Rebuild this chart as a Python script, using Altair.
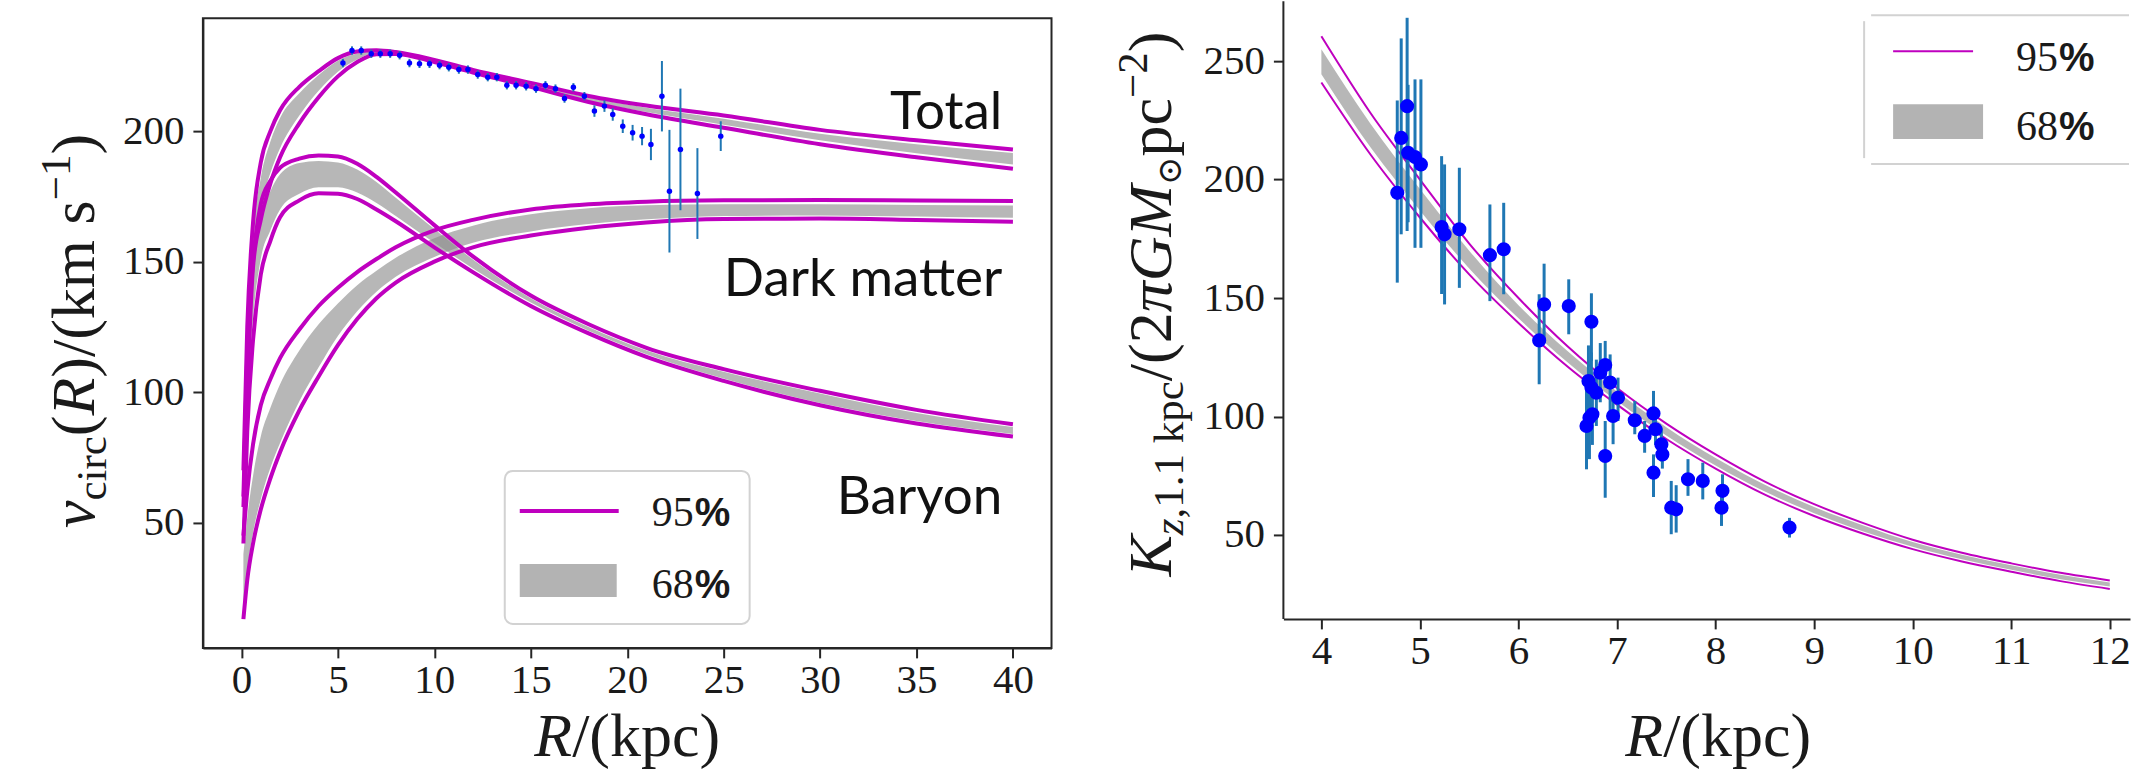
import altair as alt
import pandas as pd

# ---------------- left panel: circular velocity curves ----------------
R_grid = [0.1, 0.3, 0.6, 1.0, 1.5, 2.0, 3.0, 4.0, 5.0, 6.0, 7.0, 8.0, 10.0, 12.0, 15.0, 18.0, 21.0, 25.0, 30.0, 35.0, 40.0]

total_up95 = [70, 125, 165, 188, 200, 208, 217, 223, 228, 230.5, 231, 230.3, 227.3, 223.5, 218.5, 213.5, 209.8, 206, 200.5, 196.5, 193]
total_lo95 = [56, 100, 148, 166, 180, 190, 203, 213, 221, 226.5, 229.5, 229.6, 226.5, 222.5, 217, 211.2, 206.5, 201.3, 195, 190, 185.6]
total_up68 = [67, 119, 160, 182, 196, 205, 214.5, 221.5, 227, 229.8, 230.6, 230, 227, 223.2, 218.1, 212.9, 209, 204.8, 199, 195, 191.6]
total_lo68 = [59, 106, 152, 171, 184, 193.5, 206, 215.5, 222.8, 227.5, 230, 229.8, 226.7, 222.8, 217.4, 211.7, 207.3, 202.5, 196.5, 191.5, 187.2]

dm_up95 = [45, 62, 80, 95, 105, 113, 124, 133, 140, 146, 151, 155.5, 162, 166, 170, 172, 173, 173.5, 173.6, 173.4, 173.2]
dm_lo95 = [13, 28, 42, 55, 67, 77, 93, 106, 118, 128, 136, 142, 150, 155.5, 160, 163, 165, 166.3, 166.5, 166, 165.3]
dm_up68 = [38, 52, 68, 83, 94, 103, 116, 126, 134, 141, 146.5, 151.5, 159, 163.8, 168.2, 170.5, 171.6, 172, 172, 171.7, 171.5]
dm_lo68 = [15, 31, 46, 59, 71, 80.5, 96.5, 109.5, 121.5, 131, 138.5, 144.2, 151.8, 157.2, 161.6, 164.4, 166.2, 167.5, 167.7, 167.3, 166.8]

bar_up95 = [60, 115, 150, 172, 181, 186, 189.5, 190.7, 190.3, 187.5, 182.5, 176.5, 164, 152, 137, 126, 117, 108.8, 100.5, 93.2, 87.7]
bar_lo95 = [42, 85, 120, 145, 158, 167, 173.5, 176.2, 176, 174, 170, 165.5, 155.5, 146, 133, 122.5, 113.5, 104.3, 95, 88, 83]
bar_up68 = [56, 108, 144, 167, 177, 183.5, 187.8, 188.6, 188, 185.3, 180.5, 174.5, 162.5, 150.8, 136, 125, 116, 107.8, 99.5, 92, 86.6]
bar_lo68 = [46, 93, 128, 151, 162, 170, 176, 178.5, 178.5, 176.5, 172.5, 167.5, 157.2, 147.4, 134.3, 123.5, 114.5, 105.2, 95.8, 88.9, 84]

rc_R = [5.26, 5.73, 6.21, 6.73, 7.20, 7.71, 8.20, 8.71, 9.23, 9.75, 10.27, 10.75, 11.27, 11.74, 12.25, 12.77, 13.24, 13.76, 14.24, 14.76,
        15.27, 15.76, 16.28, 16.75, 17.21, 17.78, 18.30, 18.82, 19.25, 19.77, 20.28, 20.77, 21.23, 21.80, 22.19, 22.76, 23.64, 24.85]
rc_v = [226.1, 230.9, 230.9, 229.7, 229.7, 229.7, 229.1, 226.1, 225.8, 225.8, 225.3, 224.5, 223.6, 223.6, 221.7, 220.7, 220.7, 217.6, 217.6, 217.2,
        216.3, 217.6, 216.3, 212.5, 216.8, 213.4, 207.7, 209.6, 206.4, 201.9, 199.4, 198.1, 194.9, 213.4, 177.0, 193.0, 176.1, 198.1]
rc_err = [1.6, 1.6, 1.6, 1.6, 1.6, 1.6, 1.6, 1.6, 1.6, 1.6, 1.6, 1.6, 1.6, 1.6, 1.6, 1.6, 1.6, 1.6, 1.6, 1.6,
          1.6, 1.6, 1.6, 1.6, 1.6, 1.6, 2.2, 2.2, 2.4, 2.6, 3.0, 3.5, 6.0, 13.5, 23.5, 23.3, 17.4, 5.7]

comp_labels = ["Total", "Dark matter", "Baryon"]
comp_label_R = [39.45, 39.45, 39.45]
comp_label_v = [200.8, 136.8, 53.3]

# ---------------- right panel: vertical force ----------------
kz_grid = [4.0, 4.5, 5.0, 5.5, 6.0, 6.5, 7.0, 7.5, 8.0, 8.5, 9.0, 9.5, 10.0, 10.5, 11.0, 11.5, 12.0]
kz_up95 = [260.5, 228, 200, 173, 150, 129.5, 112, 97, 84, 72.5, 63, 55, 48, 42.5, 38, 34, 30.8]
kz_lo95 = [241, 210.5, 184, 160, 139.5, 121, 105, 90.5, 78, 67, 58, 50.5, 44, 38.8, 34.5, 30.5, 27.2]
kz_up68 = [255, 223.5, 196, 170, 147, 127.5, 110.5, 95.5, 82.5, 71.2, 61.8, 54, 47, 41.6, 37.2, 33.2, 29.9]
kz_lo68 = [244.5, 213.5, 187, 162.5, 141.5, 122.8, 106.5, 92, 79.3, 68.3, 59.2, 51.5, 45, 39.7, 35.3, 31.3, 28.2]

kz_R = [4.77, 4.81, 4.87, 4.88, 4.95, 5.01, 5.22, 5.25, 5.40, 5.71, 5.85, 6.21, 6.26, 6.51, 6.74, 6.71, 6.74, 6.79, 6.83, 6.88, 6.93,
        7.01, 6.69, 6.72, 6.75, 6.96, 6.88, 7.18, 7.28, 7.37, 7.39, 7.45, 7.46, 7.37, 7.55, 7.60, 7.72, 7.87, 8.06, 8.07, 8.75]
kz_K = [194.4, 217.6, 231.0, 211.3, 209.5, 206.4, 180.0, 176.9, 179.0, 168.1, 170.6, 132.1, 147.3, 146.6, 140.0, 115.0, 112.2, 110.0, 118.5, 121.7, 114.3,
        107.9, 96.0, 99.5, 100.9, 100.2, 83.3, 98.4, 91.8, 101.3, 94.6, 88.2, 84.0, 76.3, 61.5, 60.8, 73.5, 72.8, 61.5, 68.6, 53.1]
kz_lo = [156.5, 176.9, 178.3, 182.0, 171.2, 171.2, 151.7, 147.3, 154.3, 148.7, 151.6, 113.6, 131.0, 134.7, 123.4, 100.0, 97.0, 96.0, 106.0, 112.2, 102.3,
         98.1, 77.7, 82.0, 88.0, 88.3, 65.7, 92.5, 84.7, 92.5, 88.0, 81.0, 78.0, 66.0, 50.3, 51.0, 66.5, 65.0, 53.8, 63.0, 48.9]
kz_hi = [233.4, 259.6, 268.3, 240.0, 242.3, 242.3, 209.9, 206.4, 205.0, 189.5, 190.2, 151.6, 164.5, 157.9, 152.0, 130.0, 127.0, 124.0, 131.0, 131.9, 126.2,
         116.4, 115.0, 118.0, 114.0, 109.4, 98.1, 106.5, 98.1, 110.8, 101.0, 95.0, 90.0, 84.0, 72.8, 71.0, 82.0, 80.5, 69.3, 75.6, 57.2]

legend_labels = ["95", "68"]

# ---------------- styling ----------------
SERIF = "'Liberation Serif', 'Times New Roman', 'DejaVu Serif', serif"
SANS = "Lato"
PCTFONT = "'Liberation Sans', 'DejaVu Sans', sans-serif"
MAGENTA = "#bf00bf"
BANDFILL = "#8a8a8a"
EBLUE = "#1f77b4"
PBLUE = "#0000ff"
AX = "#262626"
TXT = "#1a1a1a"

W_L, H_L = 849, 630
W_R, H_R = 847, 601

xL = alt.Scale(domain=[-2, 42], nice=False, zero=False)
yL = alt.Scale(domain=[2, 243.3], nice=False, zero=False)
xR = alt.Scale(domain=[3.6146, 12.205], nice=False, zero=False)
yR = alt.Scale(domain=[14.56, 268.14], nice=False, zero=False)


def mk_axis(values, pad, domain=True):
    return alt.Axis(values=values, title=None, grid=False, labelFont=SERIF, labelFontSize=41,
                    labelColor=TXT, tickColor=AX, tickWidth=2, tickSize=10, domain=domain,
                    domainColor=AX, domainWidth=2, labelPadding=pad, labelFlush=False,
                    labelOverlap=False, format="d")


axLx = mk_axis(list(range(0, 41, 5)), 3)
axLy = mk_axis([50, 100, 150, 200], 9)
axRx = mk_axis(list(range(4, 13)), 3)
axRy = mk_axis([50, 100, 150, 200, 250], 9, domain=False)

# text width estimates (em units, Times-like metrics) used to lay out composed math titles
TW_REG = {'(': .333, ')': .333, '/': .278, 'k': .5, 'm': .778, ' ': .25, 's': .389, 'p': .5, 'c': .444,
          'i': .278, 'r': .333, ',': .25, '.': .25, '1': .5, '2': .5, '−': .564}
TW_IT = {'v': .444, 'R': .611, 'K': .667, 'z': .389, 'π': .5, 'G': .722, 'M': .833}


def tw(s, italic, size, font):
    if font != SERIF:
        return 0.84 * size * len(s)
    tab = TW_IT if italic else TW_REG
    return sum(tab.get(ch, .5) for ch in s) * size


def layout_pieces(spec, base, center, vertical):
    total = sum(tw(t, it, sz, f) for t, it, sz, sh, f in spec)
    rows = []
    pos = center + total / 2 if vertical else center - total / 2
    for t, it, sz, sh, f in spec:
        w = tw(t, it, sz, f)
        if vertical:
            rows.append(dict(t=t, px=base + sh, py=pos, it=it, sz=sz, f=f))
            pos -= w
        else:
            rows.append(dict(t=t, px=pos, py=base + sh, it=it, sz=sz, f=f))
            pos += w
    return rows


def text_layers(rows, angle=0, weight="normal"):
    df = pd.DataFrame(rows)
    layers = []
    for (it, sz, f), g in df.groupby(["it", "sz", "f"]):
        layers.append(
            alt.Chart(g[["t", "px", "py"]]).mark_text(
                font=f, fontSize=float(sz), fontStyle="italic" if it else "normal", fontWeight=weight,
                angle=angle, align="left", baseline="alphabetic", color=TXT
            ).encode(
                x=alt.X("px:Q", scale=None, axis=None),
                y=alt.Y("py:Q", scale=None, axis=None),
                text="t:N",
            )
        )
    return layers


one = pd.DataFrame({"k": [0]})

# ---------------- left panel ----------------
band_rows = []
line_rows = []
for name, up95, lo95, up68, lo68 in [
    ("Total", total_up95, total_lo95, total_up68, total_lo68),
    ("DM", dm_up95, dm_lo95, dm_up68, dm_lo68),
    ("Baryon", bar_up95, bar_lo95, bar_up68, bar_lo68),
]:
    for i, r in enumerate(R_grid):
        band_rows.append(dict(R=r, lo=lo68[i], hi=up68[i], comp=name))
        line_rows.append(dict(R=r, v=up95[i], s=name + "_up"))
        line_rows.append(dict(R=r, v=lo95[i], s=name + "_lo"))
bandL = pd.DataFrame(band_rows)
lineL = pd.DataFrame(line_rows)
rcdf = pd.DataFrame({"R": rc_R, "v": rc_v,
                     "lo": [a - b for a, b in zip(rc_v, rc_err)],
                     "hi": [a + b for a, b in zip(rc_v, rc_err)]})
labdf = pd.DataFrame({"R": comp_label_R, "v": comp_label_v, "t": comp_labels})

L_bands = alt.Chart(bandL).mark_area(color=BANDFILL, opacity=0.62, interpolate="monotone").encode(
    x=alt.X("R:Q", scale=xL, axis=axLx), y=alt.Y("lo:Q", scale=yL, axis=axLy), y2="hi:Q", detail="comp:N")
L_lines = alt.Chart(lineL).mark_line(color=MAGENTA, strokeWidth=4, interpolate="monotone").encode(
    x=alt.X("R:Q", scale=xL, axis=axLx), y=alt.Y("v:Q", scale=yL, axis=axLy), detail="s:N")
L_err = alt.Chart(rcdf).mark_rule(color=EBLUE, strokeWidth=2).encode(
    x=alt.X("R:Q", scale=xL, axis=axLx), y=alt.Y("lo:Q", scale=yL, axis=axLy), y2="hi:Q")
L_pts = alt.Chart(rcdf).mark_circle(color=PBLUE, size=30, opacity=1).encode(
    x=alt.X("R:Q", scale=xL, axis=axLx), y=alt.Y("v:Q", scale=yL, axis=axLy))
L_lab = alt.Chart(labdf).mark_text(font=SANS, fontSize=53, align="right", baseline="alphabetic", color="#111").encode(
    x=alt.X("R:Q", scale=xL, axis=axLx), y=alt.Y("v:Q", scale=yL, axis=axLy), text="t:N")

# legend (left)
L_legbox = alt.Chart(one).mark_rect(fill="white", stroke="#d2d2d2", strokeWidth=2, cornerRadius=8).encode(
    x=alt.value(302), x2=alt.value(547), y=alt.value(453), y2=alt.value(606))
L_legline = alt.Chart(one).mark_rule(color=MAGENTA, strokeWidth=4).encode(
    x=alt.value(317), x2=alt.value(416), y=alt.value(493))
L_legpatch = alt.Chart(one).mark_rect(color="#b3b3b3").encode(
    x=alt.value(317), x2=alt.value(414), y=alt.value(546), y2=alt.value(579))
L_legtxt = text_layers([dict(t=legend_labels[0], px=449, py=508, it=False, sz=42, f=SERIF),
                        dict(t=legend_labels[1], px=449, py=580, it=False, sz=42, f=SERIF)])
L_legpct = text_layers([dict(t="%", px=492, py=508, it=False, sz=40, f=PCTFONT),
                        dict(t="%", px=492, py=580, it=False, sz=40, f=PCTFONT)], weight="bold")

# titles (left)
ytitle_L = [("v", True, 62, 0, SERIF), ("circ", False, 43, 12, SERIF), ("(", False, 62, 0, SERIF),
            ("R", True, 62, 0, SERIF), (")/(km s", False, 62, 0, SERIF), ("−1", False, 43, -24, SERIF),
            (")", False, 62, 0, SERIF)]
xtitle = [("R", True, 62, 0, SERIF), ("/(kpc)", False, 62, 0, SERIF)]
L_ytitle = text_layers(layout_pieces(ytitle_L, -109, 313, True), angle=270)
L_xtitle = text_layers(layout_pieces(xtitle, 738, 424.5, False))
L_pin = alt.Chart(one).mark_rule(color="white", strokeWidth=1).encode(
    x=alt.value(-201), y=alt.value(0), y2=alt.value(2))

left = alt.layer(L_bands, L_lines, L_err, L_pts, L_lab, L_legbox, L_legline, L_legpatch,
                 *L_legtxt, *L_legpct, *L_ytitle, *L_xtitle, L_pin).properties(
    width=W_L, height=H_L, view=alt.ViewBackground(stroke=AX, strokeWidth=2))

# ---------------- right panel ----------------
kzband = pd.DataFrame({"R": kz_grid, "lo": kz_lo68, "hi": kz_up68})
kzline = pd.DataFrame({"R": kz_grid * 2, "v": kz_up95 + kz_lo95,
                       "s": ["up"] * len(kz_grid) + ["lo"] * len(kz_grid)})
kzdf = pd.DataFrame({"R": kz_R, "K": kz_K, "lo": kz_lo, "hi": kz_hi})

R_band = alt.Chart(kzband).mark_area(color=BANDFILL, opacity=0.62, interpolate="monotone").encode(
    x=alt.X("R:Q", scale=xR, axis=axRx), y=alt.Y("lo:Q", scale=yR, axis=axRy), y2="hi:Q")
R_lines = alt.Chart(kzline).mark_line(color=MAGENTA, strokeWidth=2, interpolate="monotone").encode(
    x=alt.X("R:Q", scale=xR, axis=axRx), y=alt.Y("v:Q", scale=yR, axis=axRy), detail="s:N")
R_err = alt.Chart(kzdf).mark_rule(color=EBLUE, strokeWidth=3).encode(
    x=alt.X("R:Q", scale=xR, axis=axRx), y=alt.Y("lo:Q", scale=yR, axis=axRy), y2="hi:Q")
R_pts = alt.Chart(kzdf).mark_circle(color=PBLUE, size=200, opacity=1).encode(
    x=alt.X("R:Q", scale=xR, axis=axRx), y=alt.Y("K:Q", scale=yR, axis=axRy))
R_spine = alt.Chart(one).mark_rule(color=AX, strokeWidth=2).encode(
    x=alt.value(0), y=alt.value(-17), y2=alt.value(H_R))

# legend (right) - box runs off the right edge of the picture
R_legfill = alt.Chart(one).mark_rect(fill="white", opacity=0.9).encode(
    x=alt.value(582), x2=alt.value(846), y=alt.value(-2), y2=alt.value(145))
R_legtop = alt.Chart(one).mark_rule(color="#d2d2d2", strokeWidth=2).encode(
    x=alt.value(588), x2=alt.value(846), y=alt.value(-3))
R_legbot = alt.Chart(one).mark_rule(color="#d2d2d2", strokeWidth=2).encode(
    x=alt.value(588), x2=alt.value(846), y=alt.value(146))
R_legleft = alt.Chart(one).mark_rule(color="#d2d2d2", strokeWidth=2).encode(
    x=alt.value(581), y=alt.value(3), y2=alt.value(140))
R_legline = alt.Chart(one).mark_rule(color=MAGENTA, strokeWidth=2).encode(
    x=alt.value(610), x2=alt.value(690), y=alt.value(33))
R_legpatch = alt.Chart(one).mark_rect(color="#b3b3b3").encode(
    x=alt.value(610), x2=alt.value(700), y=alt.value(86), y2=alt.value(121))
R_legtxt = text_layers([dict(t=legend_labels[0], px=733, py=53, it=False, sz=42, f=SERIF),
                        dict(t=legend_labels[1], px=733, py=122, it=False, sz=42, f=SERIF)])
R_legpct = text_layers([dict(t="%", px=776, py=53, it=False, sz=40, f=PCTFONT),
                        dict(t="%", px=776, py=122, it=False, sz=40, f=PCTFONT)], weight="bold")

ytitle_R = [("K", True, 62, 0, SERIF), ("z", True, 43, 12, SERIF), (",1.1 kpc", False, 43, 12, SERIF),
            ("/(2", False, 62, 0, SERIF), ("π", True, 62, 0, SERIF), ("GM", True, 62, 0, SERIF),
            ("⊙", False, 34, 10, "'DejaVu Serif', serif"), ("pc", False, 62, 0, SERIF),
            ("−2", False, 43, -24, SERIF), (")", False, 62, 0, SERIF)]
R_ytitle = text_layers(layout_pieces(ytitle_R, -112, 286, True), angle=270)
R_xtitle = text_layers(layout_pieces(xtitle, 738, 435, False))

right = alt.layer(R_band, R_lines, R_err, R_pts, R_spine, R_legfill, R_legtop, R_legbot, R_legleft,
                  R_legline, R_legpatch, *R_legtxt, *R_legpct, *R_ytitle, *R_xtitle).properties(
    width=W_R, height=H_R, view=alt.ViewBackground(strokeOpacity=0))

chart = alt.hconcat(left, right, spacing=232, bounds="flush").properties(
    padding=0, background="white"
).configure_view(stroke=AX, strokeWidth=2)

chart.save("out.html", embed_options={"renderer": "svg", "actions": False})
